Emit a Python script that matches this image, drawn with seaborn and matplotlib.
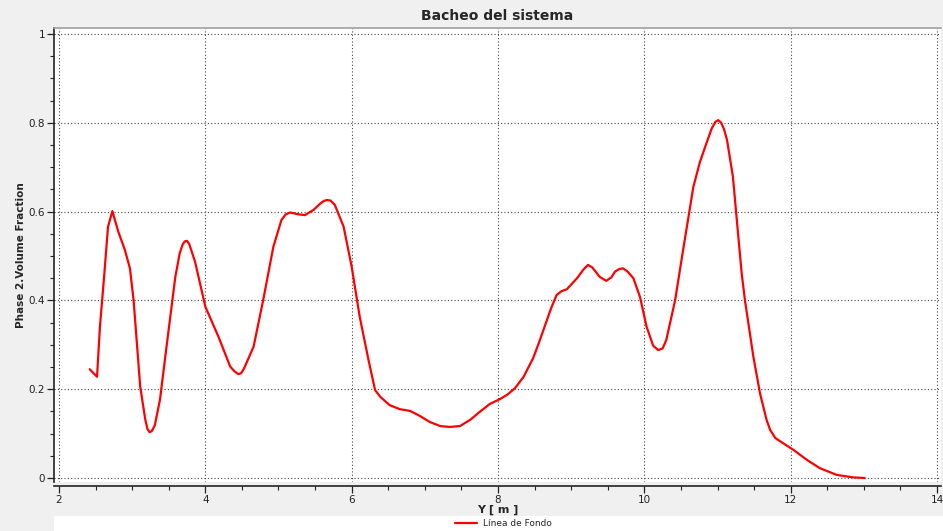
import matplotlib
matplotlib.use("Agg")
from matplotlib import pyplot as plt
from matplotlib.ticker import MultipleLocator
from matplotlib.patches import Rectangle
import numpy as np
import pandas as pd
import seaborn as sns

# Data
y_pos = [2.42, 2.52, 2.56, 2.62, 2.67, 2.73, 2.81, 2.90, 2.97, 3.02, 3.11, 3.18, 3.21,
         3.24, 3.27, 3.31, 3.38, 3.47, 3.59, 3.65, 3.69, 3.72, 3.75, 3.78, 3.86, 4.00,
         4.18, 4.34, 4.40, 4.45, 4.49, 4.53, 4.66, 4.79, 4.93, 5.04, 5.10, 5.16, 5.27,
         5.36, 5.48, 5.57, 5.62, 5.66, 5.71, 5.77, 5.89, 6.00, 6.11, 6.23, 6.32, 6.39,
         6.52, 6.66, 6.80, 6.93, 7.07, 7.21, 7.34, 7.48, 7.62, 7.75, 7.89, 8.03, 8.13,
         8.23, 8.35, 8.48, 8.56, 8.62, 8.72, 8.80, 8.87, 8.94, 9.08, 9.17, 9.23, 9.29,
         9.39, 9.48, 9.55, 9.60, 9.66, 9.71, 9.77, 9.85, 9.94, 10.03, 10.12, 10.19,
         10.25, 10.30, 10.42, 10.53, 10.67, 10.76, 10.84, 10.92, 10.97, 11.01, 11.05,
         11.09, 11.13, 11.21, 11.28, 11.33, 11.375, 11.49, 11.58, 11.67, 11.72, 11.79,
         11.90, 12.04, 12.22, 12.40, 12.63, 12.85, 13.01]
fraction = [0.245, 0.228, 0.341, 0.46, 0.566, 0.601, 0.555, 0.514, 0.472, 0.40, 0.206,
            0.131, 0.110, 0.103, 0.106, 0.119, 0.176, 0.296, 0.453, 0.506, 0.526, 0.533,
            0.534, 0.527, 0.487, 0.386, 0.318, 0.251, 0.240, 0.234, 0.236, 0.247, 0.296,
            0.40, 0.521, 0.581, 0.594, 0.598, 0.594, 0.592, 0.604, 0.618, 0.624, 0.626,
            0.625, 0.615, 0.566, 0.476, 0.363, 0.266, 0.198, 0.183, 0.164, 0.155, 0.151,
            0.140, 0.126, 0.117, 0.115, 0.117, 0.131, 0.149, 0.167, 0.178, 0.188, 0.202,
            0.228, 0.27, 0.305, 0.333, 0.380, 0.412, 0.421, 0.425, 0.45, 0.470, 0.480,
            0.474, 0.453, 0.444, 0.452, 0.465, 0.471, 0.472, 0.465, 0.45, 0.408, 0.341,
            0.298, 0.288, 0.292, 0.311, 0.40, 0.514, 0.656, 0.712, 0.750, 0.787, 0.802,
            0.806, 0.800, 0.785, 0.761, 0.679, 0.551, 0.461, 0.40, 0.273, 0.191, 0.131,
            0.108, 0.090, 0.078, 0.063, 0.041, 0.022, 0.007, 0.0015, 0.0]

df = pd.DataFrame({"Y": y_pos, "frac": fraction})

sns.set_style("white")
plt.rcParams['font.family'] = ['DejaVu Sans']

fig = plt.figure(figsize=(9.43, 5.31), dpi=100, facecolor='#f0f0f0')
ax = fig.add_axes([54 / 943, 49 / 531, 887 / 943, 454 / 531])
ax.set_facecolor('white')

sns.lineplot(data=df, x="Y", y="frac", color='red', linewidth=1.6,
             label='Línea de Fondo', ax=ax, sort=False,
             solid_joinstyle='round', solid_capstyle='round')

ax.set_xlim(1.932, 14.054)
ax.set_ylim(-0.009, 1.0135)
ax.xaxis.set_major_locator(MultipleLocator(2))
ax.xaxis.set_minor_locator(MultipleLocator(0.5))
ax.yaxis.set_major_locator(MultipleLocator(0.2))
ax.yaxis.set_minor_locator(MultipleLocator(0.05))
ax.set_yticks([0, 0.2, 0.4, 0.6, 0.8, 1.0])
ax.set_yticklabels(['0', '0.2', '0.4', '0.6', '0.8', '1'])

ax.grid(True, which='major', color='#444444', linestyle=(0, (1, 2)), linewidth=0.8)

ax.tick_params(axis='both', which='major', direction='out', length=5, width=0.9,
               labelsize=7.5, colors='#222222', left=True, bottom=True, pad=1.5)
ax.tick_params(axis='both', which='minor', direction='out', length=3, width=0.8,
               left=True, bottom=True)

ax.spines['bottom'].set_position(('outward', 3))
ax.spines['bottom'].set_color('#222222')
ax.spines['left'].set_color('#222222')
ax.spines['top'].set_color('#a0a0a0')
ax.spines['right'].set_visible(False)
for s in ['bottom', 'left', 'top']:
    ax.spines[s].set_linewidth(1.2)

ax.set_title('Bacheo del sistema', fontsize=10, fontweight='bold', pad=6)
ax.set_xlabel('Y [ m ]', fontsize=8, fontweight='bold', labelpad=0)
ax.set_ylabel('Phase 2.Volume Fraction', fontsize=7.5, fontweight='bold', labelpad=2)

# white legend strip at the bottom
fig.patches.append(Rectangle((54 / 943, 0), 1, 15 / 531, transform=fig.transFigure,
                             facecolor='white', edgecolor='none', zorder=0))
ax.get_legend().remove()
handles, labels = ax.get_legend_handles_labels()
fig.legend(handles, labels, loc='center', bbox_to_anchor=(503 / 943, 7 / 531),
           frameon=False, fontsize=6.5, handlelength=2.5, borderpad=0, handletextpad=0.6)

fig.savefig('out.png', dpi=100, facecolor=fig.get_facecolor())
